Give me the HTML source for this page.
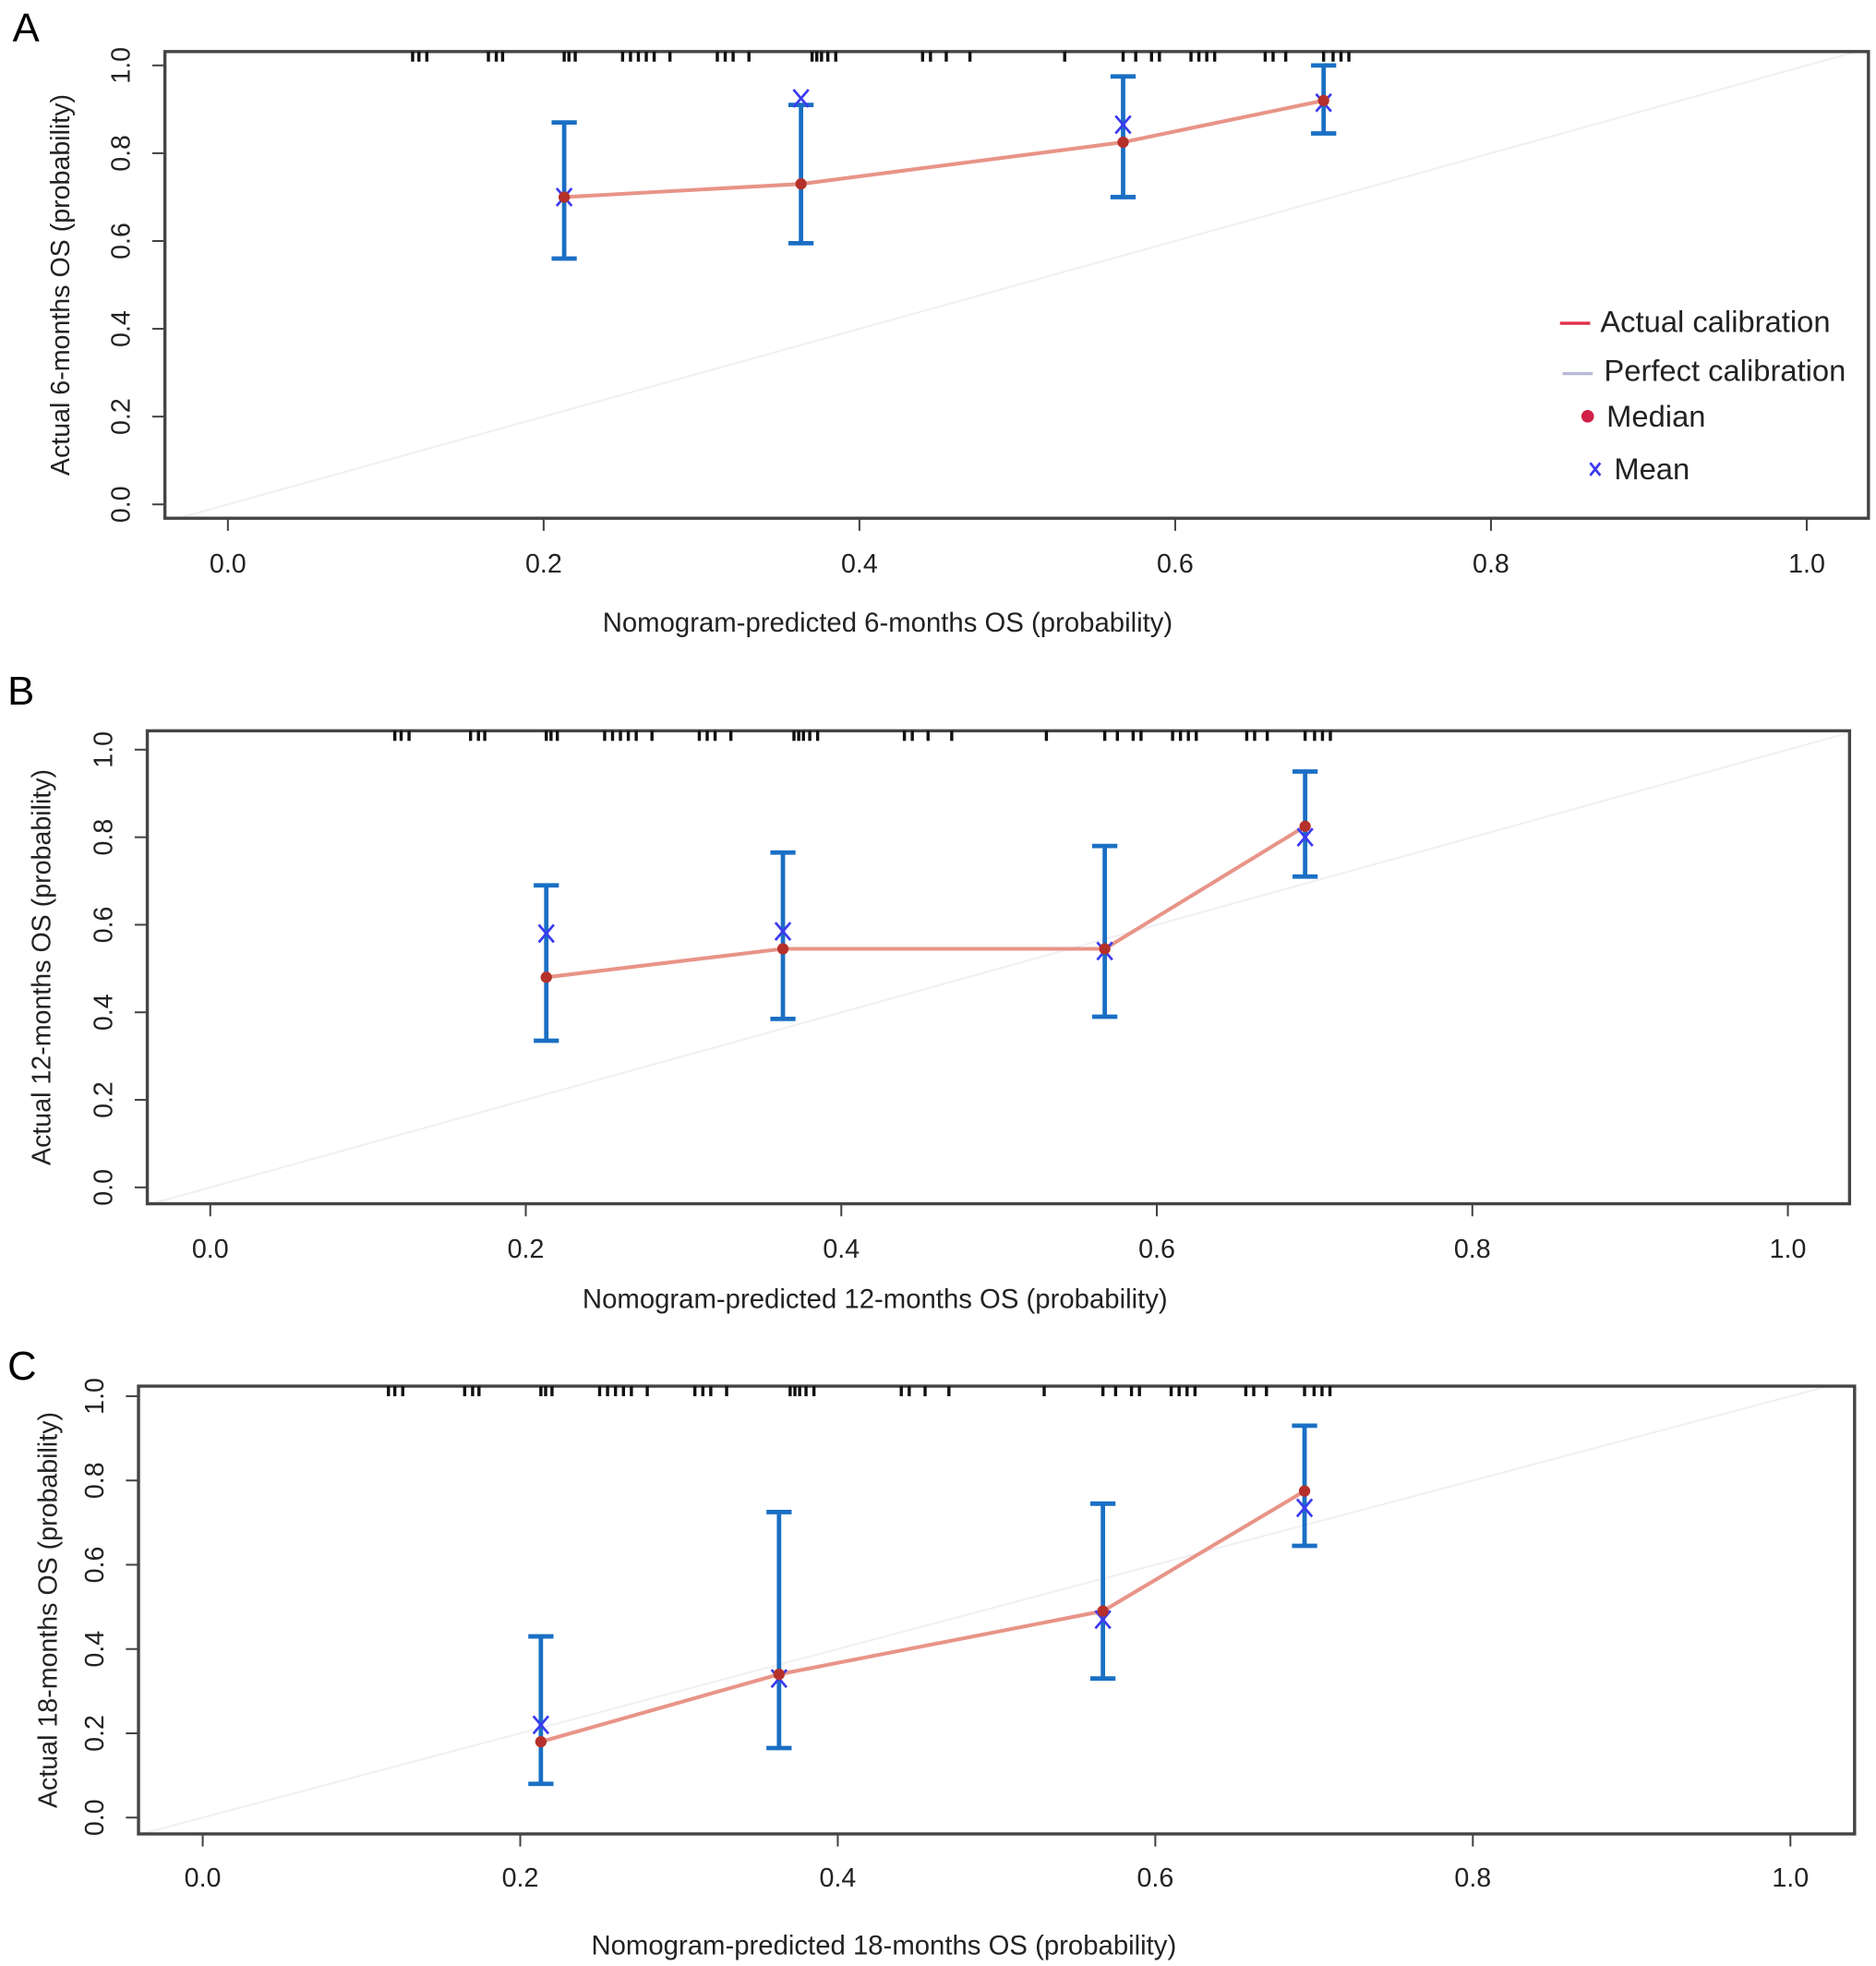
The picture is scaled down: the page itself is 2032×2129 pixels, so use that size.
<!DOCTYPE html>
<html><head><meta charset="utf-8"><style>
html,body{margin:0;padding:0;background:#fff;}
svg{display:block;font-family:"Liberation Sans",sans-serif;}
</style></head><body>
<svg id="chart" width="2032" height="2129" viewBox="0 0 1490 1563" preserveAspectRatio="none" xmlns="http://www.w3.org/2000/svg"></svg>
<script>
const xTicks = [0.0, 0.2, 0.4, 0.6, 0.8, 1.0];
const yTicks = [0.0, 0.2, 0.4, 0.6, 0.8, 1.0];
const tickLabels = ["0.0", "0.2", "0.4", "0.6", "0.8", "1.0"];
const rug = [0.117,0.121,0.126,0.165,0.17,0.174,0.213,0.216,0.22,0.25,0.255,0.26,0.265,0.27,0.28,0.31,0.315,0.32,0.33,0.37,0.373,0.376,0.38,0.385,0.44,0.445,0.455,0.47,0.53,0.567,0.575,0.585,0.59,0.61,0.615,0.62,0.625,0.657,0.662,0.67,0.694,0.7,0.705,0.71];
const predA = [0.213, 0.363, 0.567, 0.694];
const medianA = [0.70, 0.73, 0.825, 0.92];
const meanA = [0.70, 0.925, 0.865, 0.915];
const lowerA = [0.56, 0.595, 0.70, 0.845];
const upperA = [0.87, 0.91, 0.975, 1.0];
const predB = [0.213, 0.363, 0.567, 0.694];
const medianB = [0.48, 0.545, 0.545, 0.825];
const meanB = [0.58, 0.585, 0.54, 0.80];
const lowerB = [0.335, 0.385, 0.39, 0.71];
const upperB = [0.69, 0.765, 0.78, 0.95];
const predC = [0.213, 0.363, 0.567, 0.694];
const medianC = [0.18, 0.34, 0.49, 0.775];
const meanC = [0.22, 0.33, 0.47, 0.735];
const lowerC = [0.08, 0.165, 0.33, 0.645];
const upperC = [0.43, 0.725, 0.745, 0.93];

const NS = "http://www.w3.org/2000/svg";
const svg = document.getElementById('chart');
function mk(tag, attrs, parent){const e=document.createElementNS(NS,tag);for(const k in attrs)e.setAttribute(k,attrs[k]);(parent||svg).appendChild(e);return e;}

const panels = [
 {id:'a',letter:'A',lx:10,ly:33,box:[131,41,1484,412],x0:181,x1:1435,y0:401,y1:52,tickY:455,xlabY:502,xlabX:705,ylabX:55,yt:'Actual 6-months OS (probability)',xt:'Nomogram-predicted 6-months OS (probability)',pred:predA,med:medianA,mean:meanA,lo:lowerA,hi:upperA,legend:true},
 {id:'b',letter:'B',lx:6,ly:560,box:[117,581,1469,957],x0:167,x1:1420,y0:944,y1:596,tickY:1000,xlabY:1040,xlabX:695,ylabX:40,yt:'Actual 12-months OS (probability)',xt:'Nomogram-predicted 12-months OS (probability)',pred:predB,med:medianB,mean:meanB,lo:lowerB,hi:upperB},
 {id:'c',letter:'C',lx:6,ly:1097,box:[110,1102,1473,1458],x0:161,x1:1422,y0:1445,y1:1110,tickY:1500,xlabY:1554,xlabX:702,ylabX:45,yt:'Actual 18-months OS (probability)',xt:'Nomogram-predicted 18-months OS (probability)',pred:predC,med:medianC,mean:meanC,lo:lowerC,hi:upperC}
];

panels.forEach(p=>{
 const g=mk('g',{});
 
 
 const X=v=>p.x0+(p.x1-p.x0)*v, Y=v=>p.y0+(p.y1-p.y0)*v;
 const [bl,bt,br,bb]=p.box;
 const lt=mk('text',{x:p.lx,y:p.ly,'font-size':32},g);lt.textContent=p.letter;
 
 const cp=mk('clipPath',{id:'clip'+p.id},g);mk('rect',{x:bl,y:bt,width:br-bl,height:bb-bt},cp);
 const diag=mk('line',{x1:X(-0.05),y1:Y(-0.05),x2:X(1.05),y2:Y(1.05),stroke:'#f0f0f4','stroke-width':1.5,'clip-path':'url(#clip'+p.id+')'},g);
 
 const box=mk('rect',{x:bl,y:bt,width:br-bl,height:bb-bt,fill:'none',stroke:'#444','stroke-width':2.5},g);
 
 xTicks.forEach((t,i)=>{
  mk('line',{x1:X(t),x2:X(t),y1:bb,y2:bb+10,stroke:'#444','stroke-width':1.5},g);
  const tx=mk('text',{x:X(t),y:p.tickY,'font-size':21,'text-anchor':'middle',fill:'#222'},g);tx.textContent=tickLabels[i];
  
 });
 yTicks.forEach((t,i)=>{
  mk('line',{x1:bl,x2:bl-10,y1:Y(t),y2:Y(t),stroke:'#444','stroke-width':1.5},g);
  const ty=mk('text',{x:0,y:0,'font-size':21,'text-anchor':'middle',fill:'#222',transform:`translate(${bl-28},${Y(t)}) rotate(-90)`},g);ty.textContent=tickLabels[i];
  
 });
 const xl=mk('text',{x:p.xlabX,y:p.xlabY,'font-size':21.5,'text-anchor':'middle',fill:'#222'},g);xl.textContent=p.xt;
 
 const yl=mk('text',{x:0,y:0,'font-size':21,'text-anchor':'middle',fill:'#222',transform:`translate(${p.ylabX},${(bt+bb)/2}) rotate(-90)`},g);yl.textContent=p.yt;
 
 rug.forEach(v=>{
  const r=mk('line',{x1:X(v),x2:X(v),y1:bt,y2:bt+8,stroke:'#111','stroke-width':2.5},g);
  
 });
 const pts=p.pred.map((v,i)=>X(v)+','+Y(p.med[i])).join(' ');
 const ln=mk('polyline',{points:pts,fill:'none',stroke:'#e89488','stroke-width':3},g);
 
 p.pred.forEach((v,i)=>{
  const x=X(v);
  const eb=mk('g',{stroke:'#1a6fc4','stroke-width':3.5},g);
  
  mk('line',{x1:x,x2:x,y1:Y(p.lo[i]),y2:Y(p.hi[i])},eb);
  mk('line',{x1:x-10,x2:x+10,y1:Y(p.lo[i]),y2:Y(p.lo[i])},eb);
  mk('line',{x1:x-10,x2:x+10,y1:Y(p.hi[i]),y2:Y(p.hi[i])},eb);
  const my=Y(p.mean[i]);
  const mm=mk('path',{d:`M${x-6},${my-7}L${x+6},${my+7}M${x+6},${my-7}L${x-6},${my+7}`,stroke:'#3b3bef','stroke-width':2,fill:'none'},g);
  
  const m=mk('circle',{cx:x,cy:Y(p.med[i]),r:4.5,fill:'#b5302a'},g);
  
 });
 if(p.legend){
  const lg=mk('g',{'font-size':24,fill:'#222'},g);
  
  const e1=mk('g',{},lg);
  mk('line',{x1:1239,x2:1263,y1:257,y2:257,stroke:'#e0304a','stroke-width':2.5},e1);
  mk('text',{x:1271,y:264},e1).textContent='Actual calibration';
  const e2=mk('g',{},lg);
  mk('line',{x1:1241,x2:1265,y1:297,y2:297,stroke:'#b8b8d8','stroke-width':2.5},e2);
  mk('text',{x:1274,y:303},e2).textContent='Perfect calibration';
  const e3=mk('g',{},lg);
  mk('circle',{cx:1261,cy:331,r:5,fill:'#d0204a'},e3);
  mk('text',{x:1276,y:339},e3).textContent='Median';
  const e4=mk('g',{},lg);
  mk('path',{d:'M1263,368L1271,378M1271,368L1263,378',stroke:'#3b3bef','stroke-width':2},e4);
  mk('text',{x:1282,y:381},e4).textContent='Mean';
 }
});
</script>
</body></html>
